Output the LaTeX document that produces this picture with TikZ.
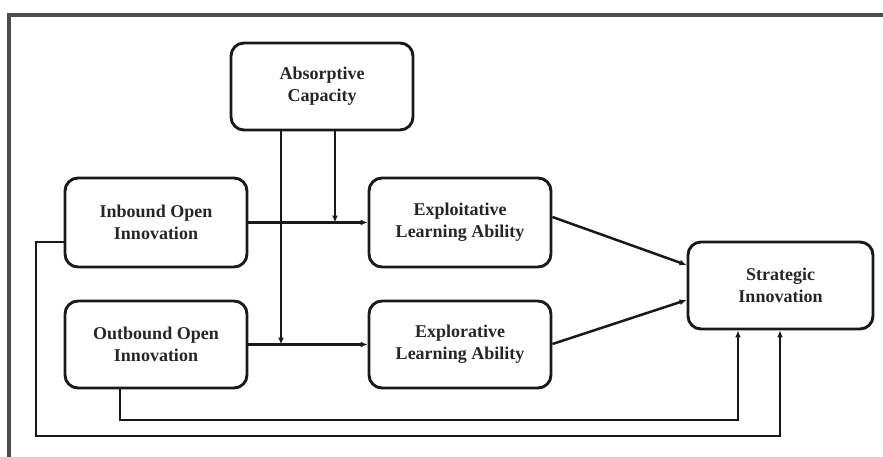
\documentclass[tikz,border=0pt]{standalone}
\usepackage{fontspec}
\setmainfont{Liberation Serif}
\usetikzlibrary{arrows.meta}
\begin{document}
\begin{tikzpicture}[x=1pt,y=-1pt,
  box/.style={draw=black!90, line width=2.9pt, rounded corners=13pt,
    minimum width=182pt, minimum height=87pt, align=center,
    font=\fontsize{18}{22}\selectfont\bfseries, text=black!85},
  link/.style={draw=black!90, line width=2.5pt},
  arr/.style={link, -{Latex[length=7pt,width=6pt]}}]
\useasboundingbox (0,0) rectangle (883,457);
% partial frame
\draw[line width=3.2pt, black!70] (9,457) -- (9,15) -- (883,15);

% boxes
\node[box] (ac) at (322,86.5) {Absorptive\\Capacity};
\node[box, minimum height=89pt] (ib) at (156,222.5) {Inbound Open\\Innovation};
\node[box] (ob) at (156,344.5) {Outbound Open\\Innovation};
\node[box, minimum height=89pt] (ei) at (460,222.5) {Exploitative\\Learning Ability};
\node[box] (er) at (460,344.5) {Explorative\\Learning Ability};
\node[box, minimum width=185pt] (si) at (780.5,285.5) {Strategic\\Innovation};

% helper points
\coordinate (m1) at (335,222.5);
\coordinate (m2) at (281,344.5);
\coordinate (ob1) at (120,420);
\coordinate (ob2) at (738,420);
\coordinate (ib1) at (36,242);
\coordinate (ib2) at (36,436);
\coordinate (ib3) at (780,436);

% main paths
\draw[arr] (ib.east) -- (ei.west);
\draw[arr] (ob.east) -- (er.west);
\draw[arr] (ac.south -| m1) -- (m1);
\draw[arr] (ac.south -| m2) -- (m2);
\draw[arr] (ei.east |- 0,217) -- (si.west |- 0,265);
\draw[arr] (er.east |- 0,344) -- (si.west |- 0,300);

% direct effects
\draw[arr] (ob.south -| ob1) -- (ob1) -- (ob2) -- (si.south -| ob2);
\draw[arr] (ib.west |- ib1) -- (ib1) -- (ib2) -- (ib3) -- (si.south -| ib3);
\end{tikzpicture}
\end{document}
